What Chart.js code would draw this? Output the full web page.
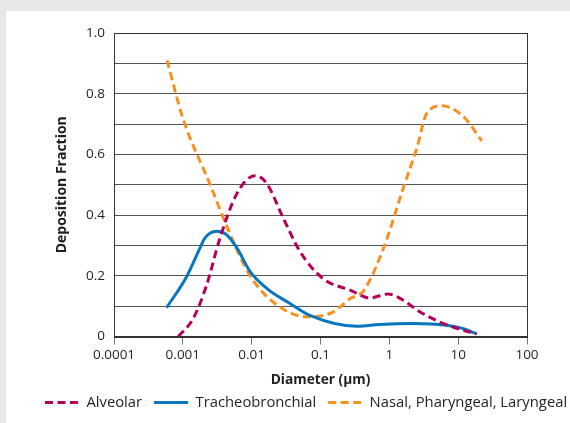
<!DOCTYPE html>
<html>
<head>
<meta charset="utf-8">
<script src="https://cdn.jsdelivr.net/npm/chart.js@4.4.1/dist/chart.umd.min.js"></script>
<style>
  html, body { margin: 0; padding: 0; background: #e6e7e8; }
  #wrap { width: 570px; height: 423px; }
</style>
</head>
<body>
<div id="wrap"><canvas id="chart" width="570" height="423"></canvas></div>
<script>
// values (diameter in µm, log scale)
const alveolarDiameter = [0.00086, 0.00142, 0.00222, 0.00347, 0.00607, 0.0112, 0.0165, 0.0288, 0.0504, 0.11, 0.27, 0.52, 0.95, 1.43, 2.8, 5.4, 10.6, 18.6];
const alveolarFraction = [0.0, 0.06, 0.17, 0.325, 0.47, 0.53, 0.505, 0.39, 0.28, 0.19, 0.153, 0.127, 0.14, 0.126, 0.081, 0.048, 0.024, 0.009];

const tracheoDiameter = [0.00058, 0.00114, 0.00178, 0.0021, 0.0031, 0.0043, 0.0061, 0.0095, 0.0165, 0.036, 0.07, 0.34, 0.73, 2.2, 6.8, 11.9, 18.6];
const tracheoFraction = [0.095, 0.198, 0.292, 0.325, 0.347, 0.336, 0.292, 0.214, 0.159, 0.109, 0.07, 0.034, 0.04, 0.043, 0.037, 0.026, 0.009];

const nasalDiameter = [0.00059, 0.001, 0.0025, 0.0046, 0.0095, 0.023, 0.063, 0.15, 0.27, 0.42, 0.82, 1.6, 2.5, 3.5, 5.8, 11.9, 22];
const nasalFraction = [0.91, 0.72, 0.5, 0.35, 0.2, 0.105, 0.065, 0.08, 0.125, 0.15, 0.29, 0.49, 0.62, 0.735, 0.76, 0.725, 0.645];

const xTicks = [0.0001, 0.001, 0.01, 0.1, 1, 10, 100];
const yLabels = [0, 0.2, 0.4, 0.6, 0.8, 1.0];

const textColor = '#231f20';
const fontFamily = "'Open Sans', 'Noto Sans', sans-serif";
const legendStart = 45;

function toPoints(xs, ys) {
    return xs.map((x, i) => ({ x: x, y: ys[i] }));
}

// grey page with white panel, frame round the plot, legend shifted like the original
const panelPlugin = {
    id: 'panel',
    afterLayout(chart) {
        const lg = chart.legend;
        if (lg) {
            const w = lg.right - lg.left;
            lg.left = legendStart - lg.options.labels.padding;
            lg.right = lg.left + w;
        }
    },
    beforeDraw(chart) {
        const ctx = chart.ctx;
        ctx.save();
        ctx.fillStyle = '#e6e7e8';
        ctx.fillRect(0, 0, chart.width, chart.height);
        ctx.fillStyle = '#ffffff';
        ctx.fillRect(6, 11, chart.width - 6, chart.height - 11);
        ctx.restore();
    },
    afterDatasetsDraw(chart) {
        const a = chart.chartArea;
        const ctx = chart.ctx;
        ctx.save();
        ctx.strokeStyle = '#333333';
        ctx.lineWidth = 1;
        ctx.strokeRect(Math.round(a.left) + 0.5, Math.round(a.top) + 0.5, Math.round(a.right - a.left), Math.round(a.bottom - a.top));
        ctx.restore();
    }
};

const ctx = document.getElementById('chart').getContext('2d');

new Chart(ctx, {
    type: 'line',
    data: {
        datasets: [
            {
                label: 'Alveolar',
                data: toPoints(alveolarDiameter, alveolarFraction),
                borderColor: '#b5005b',
                backgroundColor: '#b5005b',
                borderWidth: 3,
                borderDash: [8, 4.5]
            },
            {
                label: 'Tracheobronchial',
                data: toPoints(tracheoDiameter, tracheoFraction),
                borderColor: '#0877c0',
                backgroundColor: '#0877c0',
                borderWidth: 3
            },
            {
                label: 'Nasal, Pharyngeal, Laryngeal',
                data: toPoints(nasalDiameter, nasalFraction),
                borderColor: '#f7901e',
                backgroundColor: '#f7901e',
                borderWidth: 3,
                borderDash: [8, 4.5]
            }
        ]
    },
    plugins: [panelPlugin],
    options: {
        responsive: false,
        animation: false,
        layout: { padding: { top: 33, left: 0, right: 0, bottom: 3 } },
        elements: {
            point: { radius: 0 },
            line: { cubicInterpolationMode: 'monotone' }
        },
        plugins: {
            tooltip: { enabled: false },
            legend: {
                position: 'bottom',
                align: 'start',
                labels: {
                    usePointStyle: true,
                    pointStyle: 'line',
                    pointStyleWidth: 34,
                    padding: 12,
                    color: textColor,
                    font: { family: fontFamily, size: 14.8 },
                    generateLabels: chart => {
                        const items = Chart.defaults.plugins.legend.labels.generateLabels(chart);
                        items.forEach(item => {
                            const ds = chart.data.datasets[item.datasetIndex];
                            item.lineDash = ds.borderDash || [];
                            item.lineWidth = 3;
                            item.strokeStyle = ds.borderColor;
                        });
                        return items;
                    }
                }
            }
        },
        scales: {
            x: {
                type: 'logarithmic',
                min: 0.0001,
                max: 100,
                afterBuildTicks: scale => {
                    scale.ticks = xTicks.map(v => ({ value: v }));
                },
                grid: { drawOnChartArea: false, drawTicks: true, tickLength: 8, color: '#777777' },
                border: { color: '#333333' },
                ticks: {
                    padding: 2,
                    autoSkip: false,
                    maxRotation: 0,
                    color: textColor,
                    font: { family: fontFamily, size: 13.5 },
                    callback: value => String(value)
                },
                title: {
                    display: true,
                    text: 'Diameter (µm)',
                    color: textColor,
                    padding: { top: 7, bottom: -5 },
                    font: { family: fontFamily, size: 13.7, weight: 'bold' }
                }
            },
            y: {
                min: 0,
                max: 1,
                afterFit: scale => { scale.width = 114; },
                grid: { drawTicks: false, color: '#555555' },
                border: { color: '#333333' },
                ticks: {
                    stepSize: 0.1,
                    padding: 9,
                    color: textColor,
                    font: { family: fontFamily, size: 13.5 },
                    callback: value => {
                        const v = Math.round(value * 10) / 10;
                        if (!yLabels.some(l => Math.abs(l - v) < 1e-6)) return '';
                        return v === 0 ? '0' : v.toFixed(1);
                    }
                },
                title: {
                    display: true,
                    text: 'Deposition Fraction',
                    color: textColor,
                    padding: { top: 54, bottom: 0 },
                    font: { family: fontFamily, size: 14, weight: 'bold' }
                }
            },
            yRight: {
                position: 'right',
                display: true,
                afterFit: scale => { scale.width = 43; },
                grid: { display: false },
                border: { display: false },
                ticks: { display: false }
            }
        }
    }
});
</script>
</body>
</html>
